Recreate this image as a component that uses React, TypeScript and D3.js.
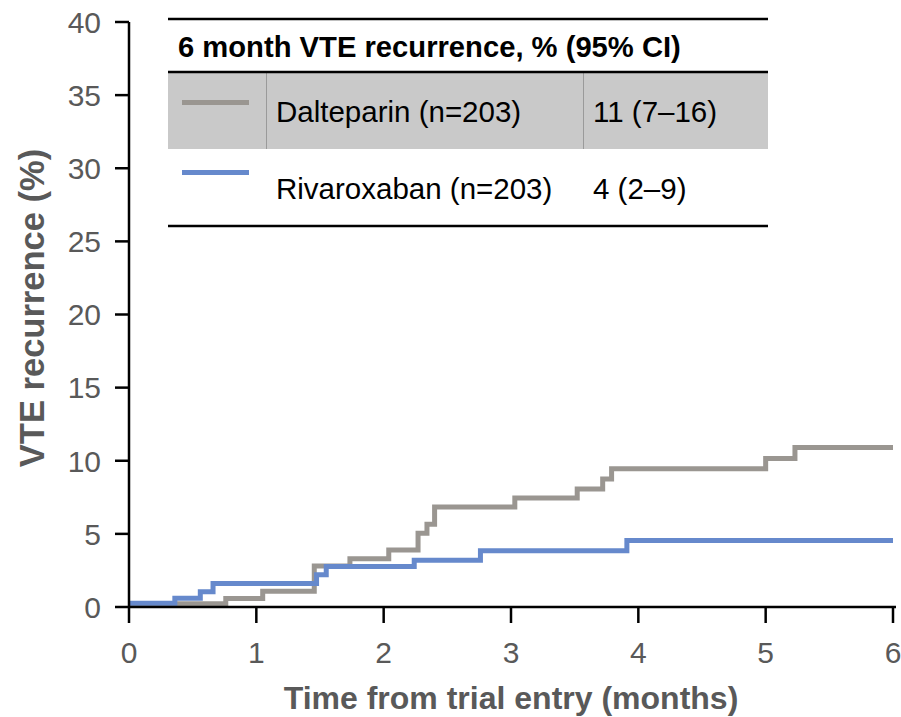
import React from "react";
import * as d3 from "d3";

const xTicks = [0, 1, 2, 3, 4, 5, 6];
const yTicks = [0, 5, 10, 15, 20, 25, 30, 35, 40];

const daltTimes = [0, 0.76, 1.05, 1.455, 1.735, 2.04, 2.27, 2.34, 2.4, 3.03, 3.52, 3.72, 3.79, 5.0, 5.23, 6];
const daltValues = [0.23, 0.58, 1.08, 2.8, 3.3, 3.9, 5.05, 5.65, 6.83, 7.45, 8.07, 8.75, 9.46, 10.15, 10.9, 10.9];

const rivaTimes = [0, 0.36, 0.56, 0.66, 1.473, 1.549, 2.24, 2.76, 3.91, 6];
const rivaValues = [0.25, 0.6, 1.05, 1.6, 2.2, 2.77, 3.2, 3.85, 4.55, 4.55];

const legendTitle = "6 month VTE recurrence, % (95% CI)";
const legendNames = ["Dalteparin (n=203)", "Rivaroxaban (n=203)"];
const legendCI = ["11 (7–16)", "4 (2–9)"];
const seriesColors = ["#9a9691", "#6689cc"];

const W = 901;
const H = 717;
const FONT = "'Liberation Sans', Arial, Helvetica, sans-serif";

export default function App() {
  const x = d3.scaleLinear().domain([0, 6]).range([129, 893]);
  const y = d3.scaleLinear().domain([0, 40]).range([607, 22]);
  const line = d3
    .line<[number, number]>()
    .x((d) => x(d[0]))
    .y((d) => y(d[1]))
    .curve(d3.curveStepAfter);

  const dalt = daltTimes.map((t, i) => [t, daltValues[i]] as [number, number]);
  const riva = rivaTimes.map((t, i) => [t, rivaValues[i]] as [number, number]);

  const tableX0 = 168;
  const tableX1 = 768;

  return (
    <svg
      width={W}
      height={H}
      style={{ position: "absolute", left: 0, top: 0, background: "#fff" }}
      fontFamily={FONT}
    >
      {/* legend table */}
      <rect x={tableX0} y={72} width={tableX1 - tableX0} height={77} fill="#c9c9c9" />
      <line x1={266.5} x2={266.5} y1={72} y2={149} stroke="#9a9a9a" strokeWidth={1} />
      <line x1={583.5} x2={583.5} y1={72} y2={149} stroke="#9a9a9a" strokeWidth={1} />
      <line x1={tableX0} x2={tableX1} y1={19} y2={19} stroke="#000" strokeWidth={2.5} />
      <line x1={tableX0} x2={tableX1} y1={72} y2={72} stroke="#000" strokeWidth={2.5} />
      <line x1={tableX0} x2={tableX1} y1={226} y2={226} stroke="#000" strokeWidth={2.5} />
      <text x={178} y={57} fontSize={29.2} fontWeight="bold" fill="#000">
        {legendTitle}
      </text>
      {legendNames.map((name, i) => (
        <g key={name}>
          <line
            x1={182}
            x2={249}
            y1={i === 0 ? 102.5 : 172.5}
            y2={i === 0 ? 102.5 : 172.5}
            stroke={seriesColors[i]}
            strokeWidth={5}
          />
          <text x={276} y={i === 0 ? 122 : 199} fontSize={29.5} fill="#000">
            {name}
          </text>
          <text x={593} y={i === 0 ? 122 : 199} fontSize={29.5} fill="#000">
            {legendCI[i]}
          </text>
        </g>
      ))}

      {/* curves */}
      <path d={line(dalt) || ""} fill="none" stroke={seriesColors[0]} strokeWidth={5} />
      <path d={line(riva) || ""} fill="none" stroke={seriesColors[1]} strokeWidth={5} />

      {/* axes */}
      <line x1={x(0)} x2={x(0)} y1={y(40)} y2={y(0) + 1} stroke="#000" strokeWidth={2.5} />
      <line x1={x(0) - 1} x2={896} y1={y(0)} y2={y(0)} stroke="#000" strokeWidth={2.5} />
      {yTicks.map((t) => (
        <g key={"y" + t}>
          <line x1={115} x2={x(0)} y1={y(t)} y2={y(t)} stroke="#000" strokeWidth={2.5} />
          <text x={101} y={y(t)} dy="0.36em" textAnchor="end" fontSize={30} fill="#595959">
            {t}
          </text>
        </g>
      ))}
      {xTicks.map((t) => (
        <g key={"x" + t}>
          <line x1={x(t)} x2={x(t)} y1={y(0)} y2={y(0) + 16} stroke="#000" strokeWidth={2.5} />
          <text x={x(t)} y={663} textAnchor="middle" fontSize={30} fill="#595959">
            {t}
          </text>
        </g>
      ))}
      <text x={511} y={709} textAnchor="middle" fontSize={32} fontWeight="bold" fill="#595959">
        Time from trial entry (months)
      </text>
      <text
        transform={`translate(44,308) rotate(-90)`}
        textAnchor="middle"
        fontSize={34.5}
        fontWeight="bold"
        fill="#595959"
      >
        VTE recurrence (%)
      </text>
    </svg>
  );
}
